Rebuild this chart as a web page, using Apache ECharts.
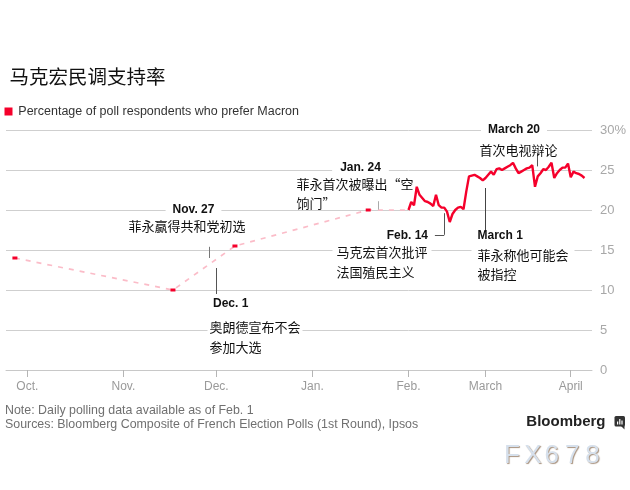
<!DOCTYPE html>
<html><head><meta charset="utf-8">
<script src="https://cdn.jsdelivr.net/npm/echarts@6/dist/echarts.min.js"></script>
<style>html,body{margin:0;padding:0;background:#fff}#c{width:630px;height:490px}</style>
</head><body><div id="c"></div>
<script>
// ---------- data ----------
const monthTicks = ['2016-10-01','2016-11-01','2016-12-01','2017-01-01','2017-02-01','2017-03-01','2017-04-01'];
const monthLabels = ['Oct.','Nov.','Dec.','Jan.','Feb.','March','April'];
const yTicks = [0,5,10,15,20,25,30];
// sparse polls before daily data
const earlyDates = ['2016-09-27','2016-11-17','2016-12-07','2017-01-19','2017-02-01'];
const earlyValues = [14,10,15.5,20,20];
// daily composite from Feb 1
const dailyStart = '2017-02-01';
const dailyValues = [
  20.0,21.0,20.6,22.9,21.9,21.5,21.1,21.0,20.8,20.5,21.9,20.6,20.3,20.3,19.8,18.5,19.5,20.0,20.3,20.4,20.1,22.3,24.2,24.3,24.4,24.2,24.0,23.7,
  24.0,24.4,24.8,24.4,25.1,25.2,25.0,25.2,25.4,25.6,25.9,25.2,24.6,24.8,25.0,25.2,25.3,25.6,22.9,24.2,24.6,25.1,25.0,25.4,25.9,24.0,24.6,25.0,25.3,25.3,25.8,
  24.1,24.8,24.6,24.5,24.3,24.0
];
const eventDates = ['2016-11-27','2016-12-01','2017-01-24','2017-02-14','2017-03-01','2017-03-20'];
const eventHeads = ['Nov. 27','Dec. 1','Jan. 24','Feb. 14','March 1','March 20'];
const eventTexts = [
  ['菲永赢得共和党初选'],
  ['奥朗德宣布不会','参加大选'],
  ['菲永首次被曝出“空','饷门”'],
  ['马克宏首次批评','法国殖民主义'],
  ['菲永称他可能会','被指控'],
  ['首次电视辩论']
];
const titleText = '马克宏民调支持率';
const legendText = 'Percentage of poll respondents who prefer Macron';
const noteText = 'Note: Daily polling data available as of Feb. 1';
const sourceText = 'Sources: Bloomberg Composite of French Election Polls (1st Round), Ipsos';

// ---------- helpers ----------
const DAY = 86400000;
function T(s){ const [d,tm]=s.split(' '); const [Y,M,D]=d.split('-').map(Number); const [h,mi]=(tm||'0:0').split(':').map(Number); return new Date(Y,M-1,D,h,mi).getTime(); }
const earlyData = earlyDates.map((d,i)=>({value:[T(d),earlyValues[i]], symbol: i===earlyDates.length-1?'none':'rect'}));
const dailyData = dailyValues.map((v,i)=>[T(dailyStart)+i*DAY, v]);
const tickTs = monthTicks.map(T);
const labelFor = v => { let best=-1, bd=Infinity; tickTs.forEach((t,i)=>{const d=Math.abs(t-v); if(d<bd){bd=d;best=i;}}); return bd<DAY ? monthLabels[best] : ''; };

const RED = '#f5002b';
const GRID_COLOR = '#cfcfcf';
const LATIN = '"Liberation Sans", Arial, sans-serif';
const CJK = '"Noto Sans CJK SC", sans-serif';

const grids = [
  {left:6, top:130, width:402.5, height:240, outerBoundsMode:'none', containLabel:false},
  {left:408.5, top:130, width:183.5, height:240, outerBoundsMode:'none', containLabel:false}
];
function xAx(idx, min, max, ticks){
  return {type:'value', gridIndex:idx, min:min, max:max, scale:true,
    axisLine:{show:true, onZero:false, lineStyle:{color:'#c8c8c8', width:1}},
    axisTick:{show:true, length:7, lineStyle:{color:'#b5b5b5'}, customValues:ticks},
    axisLabel:{show:true, customValues:ticks, formatter:labelFor, color:'#9a9a9a', fontSize:12, fontFamily:LATIN, margin:11, showMinLabel:true, showMaxLabel:true},
    splitLine:{show:false}};
}
function yAx(idx, labels){
  return {type:'value', gridIndex:idx, min:0, max:30, interval:5, position:'right',
    axisLine:{show:false}, axisTick:{show:false},
    axisLabel:{show:labels, color:'#a8a8a8', fontSize:13, fontFamily:LATIN, margin:8,
      formatter: v => v===yTicks[yTicks.length-1] ? v+'%' : String(v)},
    splitLine:{show:true, lineStyle:{color:GRID_COLOR, width:1}}};
}
function seg(t1,v1,t2,v2,color){ return [{coord:[t1,v1], lineStyle:{color:color||'#555', width:1, type:'solid'}},{coord:[t2,v2]}]; }

const tNov = T(eventDates[0]) + 1.8*DAY;   // leader as drawn in picture
const tDec = T(eventDates[1]);
const tJan = T(eventDates[2]) - 1.6*DAY;
const tFeb = T(eventDates[3]);
const tMar1 = T(eventDates[4]);
const tMar20 = T(eventDates[5]);

const option = {
  animation:false,
  backgroundColor:'#fff',
  grid: grids,
  xAxis:[
    xAx(0, T('2016-09-24 03:00'), T('2017-02-01'), tickTs.slice(0,4)),
    xAx(1, T('2017-02-01'), T('2017-04-08 17:30'), tickTs.slice(4))
  ],
  yAxis:[ yAx(0,false), yAx(1,true) ],
  series:[
    {type:'line', xAxisIndex:0, yAxisIndex:0, data:earlyData, symbolSize:[5,3],
     itemStyle:{color:RED}, lineStyle:{color:'#fbbcc8', width:1.7, type:[5,6]}, z:3,
     markLine:{silent:true, symbol:['none','none'], label:{show:false}, animation:false,
       data:[
         seg(tNov,15.4,tNov,14.0,'#777'),
         seg(tDec,12.75,tDec,9.5,'#555'),
         seg(tJan,21.1,tJan,20.05,'#aaa')
       ]}},
    {type:'line', xAxisIndex:1, yAxisIndex:1, data:dailyData, showSymbol:false, symbol:'none',
     lineStyle:{color:RED, width:2.4}, z:4,
     markLine:{silent:true, symbol:['none','none'], label:{show:false}, animation:false,
       data:[
         seg(tFeb,19.6,tFeb,16.9,'#555'),
         seg(tFeb-3.4*DAY,16.9,tFeb,16.9,'#555'),
         seg(tMar1,22.75,tMar1,17.5,'#444'),
         seg(tMar20,27.1,tMar20,25.45,'#555')
       ]}}
  ],
  graphic:[]
};

function txt(text,x,y,opt){
  opt = opt||{};
  const align = opt.align||'left';
  const s = {text:text, x:x, y:y, fill:opt.fill||'#111', font:opt.font||('13px '+CJK),
    textAlign:align, align:align, textVerticalAlign:'middle', verticalAlign:'middle'};
  if(opt.bg){
    const pad = opt.pad||[1,5];
    s.backgroundColor='#fff'; s.padding=pad;
    if(align==='left') s.x = x - pad[1];
    if(align==='right') s.x = x + pad[1];
  }
  if(opt.shadow){ s.textShadowColor=opt.shadow; s.textShadowOffsetX=1; s.textShadowOffsetY=1; s.textShadowBlur=1; }
  return {type:'text', z:50, silent:true, style:s};
}
const BOLD = 'bold 12px '+LATIN;
const g = option.graphic;
// title & legend
g.push(txt(titleText, 9.5, 77, {font:'19.5px '+CJK, fill:'#111'}));
g.push({type:'rect', z:50, shape:{x:4.5,y:107.5,width:8,height:8}, style:{fill:RED}});
g.push(txt(legendText, 18.3, 111.7, {font:'12.5px '+LATIN, fill:'#333'}));
// annotations
g.push(txt(eventHeads[0], 193.5, 210, {font:BOLD, align:'center', bg:true, pad:[2,7]}));
g.push(txt(eventTexts[0][0], 187, 226.5, {align:'center'}));
g.push(txt(eventHeads[1], 213, 304, {font:BOLD}));
g.push(txt(eventTexts[1][0], 209.5, 327.5, {bg:true, pad:[1,2]}));
g.push(txt(eventTexts[1][1], 209.5, 347));
g.push(txt(eventHeads[2], 360.5, 167.5, {font:BOLD, align:'center', bg:true, pad:[2,8]}));
g.push(txt(eventTexts[2][0], 296.5, 184.5));
g.push(txt(eventTexts[2][1], 296.5, 203));
g.push(txt(eventHeads[3], 428, 236, {font:BOLD, align:'right'}));
g.push(txt(eventTexts[3][0], 336.5, 252.5, {bg:true, pad:[2,4]}));
g.push(txt(eventTexts[3][1], 336.5, 272));
g.push(txt(eventHeads[4], 477.5, 236, {font:BOLD}));
g.push(txt(eventTexts[4][0], 477.5, 255, {bg:true, pad:[2,6]}));
g.push(txt(eventTexts[4][1], 477.5, 274));
g.push(txt(eventHeads[5], 514, 129.5, {font:BOLD, align:'center', bg:true, pad:[2,7]}));
g.push(txt(eventTexts[5][0], 518.5, 150.5, {align:'center'}));
// footer
g.push(txt(noteText, 5, 410.5, {font:'12.4px '+LATIN, fill:'#707070'}));
g.push(txt(sourceText, 5, 424.5, {font:'12.4px '+LATIN, fill:'#707070'}));
g.push(txt('Bloomberg', 605.5, 421.5, {font:'bold 15px '+LATIN, fill:'#222', align:'right'}));
g.push({type:'group', z:50, children:[
  {type:'rect', shape:{x:614.5,y:416,width:10.5,height:10.5,r:1.5}, style:{fill:'#333'}},
  {type:'polygon', shape:{points:[[621,426],[624.5,426],[624.5,429.5]]}, style:{fill:'#333'}},
  {type:'rect', shape:{x:617,y:421.5,width:1.2,height:3}, style:{fill:'#fff'}},
  {type:'rect', shape:{x:619.2,y:419,width:1.2,height:5.5}, style:{fill:'#fff'}},
  {type:'rect', shape:{x:621.4,y:420.5,width:1.2,height:4}, style:{fill:'#fff'}}
]});
const wm = 'FX678';
for(let i=0;i<wm.length;i++){
  g.push(txt(wm[i], 504+i*20.3, 456, {font:'26px '+LATIN, fill:'#d6e0ec', shadow:'#a8927e'}));
}

const chart = echarts.init(document.getElementById('c'), null, {renderer:'canvas', width:630, height:490});
chart.setOption(option);
</script></body></html>
